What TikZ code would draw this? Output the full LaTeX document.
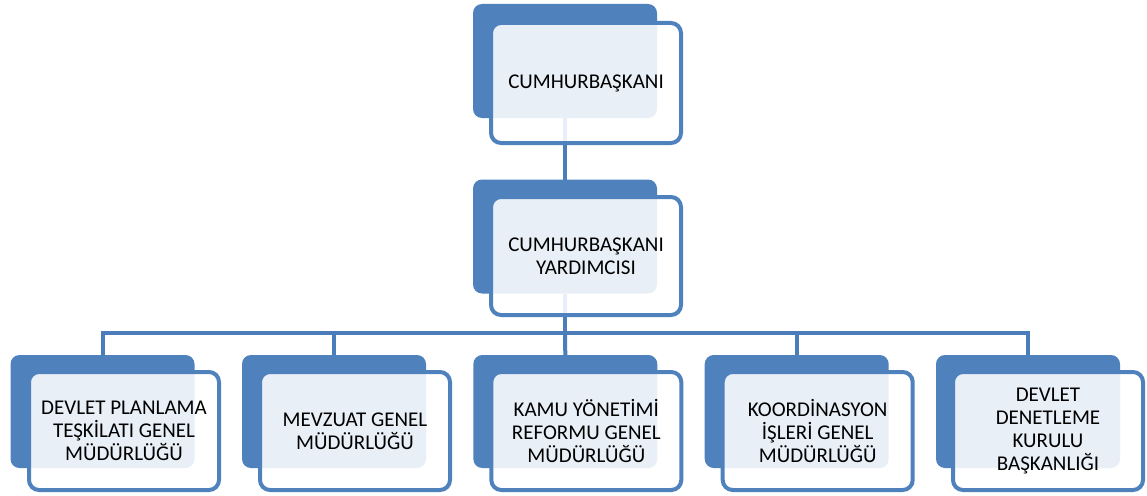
\documentclass[tikz,border=0pt]{standalone}
\usepackage{fontspec}
\setmainfont{Carlito}
\definecolor{accent}{HTML}{4F81BD}
\definecolor{linec}{HTML}{4A7DBA}
\begin{document}
\begin{tikzpicture}[x=1pt,y=-1pt,
  backbox/.style={rectangle,rounded corners=9pt,fill=accent,draw=none,minimum width=184pt,minimum height=114pt,outer sep=0pt,inner sep=0pt},
  frontbox/.style={rectangle,rounded corners=10pt,draw=accent,line width=4pt,fill=white,fill opacity=0.88,text opacity=1,minimum width=190pt,minimum height=118pt,outer sep=0pt,align=center,font=\fontsize{21}{23}\selectfont},
  conn/.style={draw=linec,line width=4pt}]
\useasboundingbox (0,0) rectangle (1147,495);
% back boxes
\node[backbox] (b0) at (565,61) {};
\node[backbox] (b1) at (565,236.5) {};
\node[backbox,minimum height=113pt] (c1) at (102.5,411.5) {};
\node[backbox,minimum height=113pt] (c2) at (334,411.5) {};
\node[backbox,minimum height=113pt] (c3) at (565.3,411.5) {};
\node[backbox,minimum height=113pt] (c4) at (796.7,411.5) {};
\node[backbox,minimum height=113pt] (c5) at (1028,411.5) {};
% connectors
\coordinate (bus) at (565,333);
\draw[conn] (b0.south) -- (b1.north);
\draw[conn] (b1.south) -- (bus);
\draw[conn] (c1.north) |- (bus) -| (c5.north);
\draw[conn] (c2.north) -- (c2.north |- bus);
\draw[conn] (c3.north) -- (bus);
\draw[conn] (c4.north) -- (c4.north |- bus);
% front boxes
\node[frontbox,minimum height=120pt] (f0) at (586,83) {CUMHURBAŞKANI};
\node[frontbox] (f1) at (586,256) {CUMHURBAŞKANI\\YARDIMCISI};
\node[frontbox] (g1) at (124,431) {DEVLET PLANLAMA\\TEŞKİLATI GENEL\\MÜDÜRLÜĞÜ};
\node[frontbox] (g2) at (355,431) {MEVZUAT GENEL\\MÜDÜRLÜĞÜ};
\node[frontbox] (g3) at (586.3,431) {KAMU YÖNETİMİ\\REFORMU GENEL\\MÜDÜRLÜĞÜ};
\node[frontbox] (g4) at (817.7,431) {KOORDİNASYON\\İŞLERİ GENEL\\MÜDÜRLÜĞÜ};
\node[frontbox] (g5) at (1048,431) {DEVLET\\DENETLEME\\KURULU\\BAŞKANLIĞI};
\end{tikzpicture}
\end{document}
